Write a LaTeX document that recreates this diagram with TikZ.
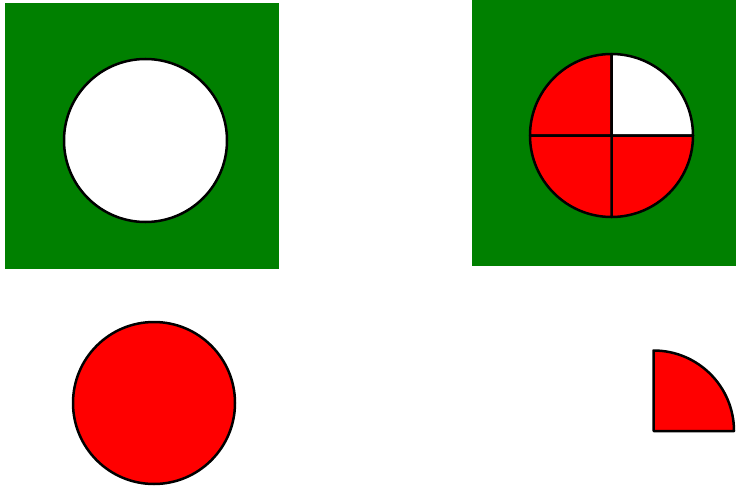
\documentclass[tikz,border=0pt]{standalone}
\definecolor{sqgreen}{RGB}{0,128,0}
\definecolor{pied}{RGB}{255,0,0}
\begin{document}
\begin{tikzpicture}[x=1pt,y=-1pt,
  square/.style={fill=sqgreen,draw=none},
  disc/.style={draw=black,line width=2.5pt},
  sector/.style={draw=black,line width=2.5pt,line join=round}]
\useasboundingbox (0,0) rectangle (736,487);
% left panel
\fill[square] (5,3) rectangle (279,269);
\coordinate (c1) at (145.5,140.5);
\draw[disc,fill=white] (c1) circle[radius=81.5];
% right panel (y axis points down: 270 = top)
\fill[square] (472,0) rectangle (736,266);
\coordinate (c2) at (611.5,135.5);
\draw[sector,fill=pied] (c2) -- ++(-81.5,0) arc[start angle=180,end angle=270,radius=81.5] -- cycle;
\draw[sector,fill=white] (c2) -- ++(0,-81.5) arc[start angle=270,end angle=360,radius=81.5] -- cycle;
\draw[sector,fill=pied] (c2) -- ++(81.5,0) arc[start angle=0,end angle=90,radius=81.5] -- cycle;
\draw[sector,fill=pied] (c2) -- ++(0,81.5) arc[start angle=90,end angle=180,radius=81.5] -- cycle;
% bottom left disc
\coordinate (c3) at (154,403);
\draw[disc,fill=pied] (c3) circle[radius=81];
% bottom right quarter
\coordinate (c4) at (653.5,431);
\draw[sector,fill=pied] (c4) -- ++(0,-80.5) arc[start angle=270,end angle=360,radius=80.5] -- cycle;
\end{tikzpicture}
\end{document}
